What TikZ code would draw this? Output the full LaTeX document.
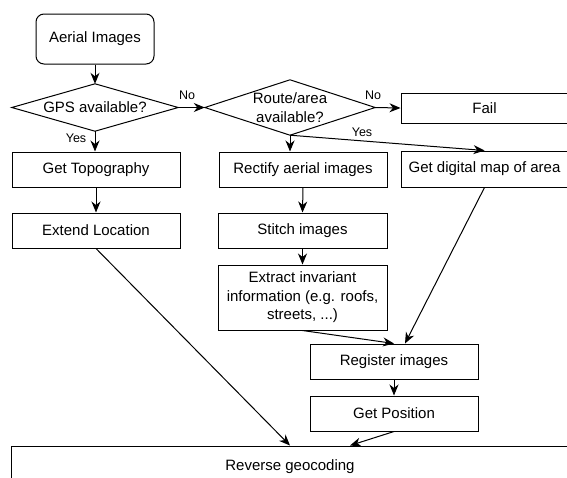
\documentclass[tikz,border=0pt]{standalone}
\usepackage{fontspec}
\setmainfont{Liberation Sans}
\usetikzlibrary{arrows.meta,calc}
\begin{document}
\begin{tikzpicture}[x=1pt,y=-1pt,
  txt/.style={inner sep=0pt,align=center,font=\fontsize{15}{18.5}\selectfont},
  box/.style={txt,draw,line width=1pt,minimum width=168pt,minimum height=35pt},
  lbl/.style={font=\fontsize{12.5}{14}\selectfont,inner sep=0pt},
  arr/.style={line width=1pt,-{Stealth[length=11pt,width=9pt,inset=3.5pt]}},
  dline/.style={line width=1pt,line join=miter}]
\useasboundingbox (0,0) rectangle (567,477);
\clip (0,0) rectangle (567,477);

% nodes
\node[box,rounded corners=8pt,minimum width=118pt,minimum height=50pt] (aerial) at (95,39) {Aerial Images};
\node[txt,minimum width=166pt,minimum height=47pt] (gps) at (95,107.5) {GPS available?};
\draw[dline] (gps.west)--(gps.north)--(gps.east)--(gps.south)--cycle;
\node[txt,minimum width=170pt,minimum height=55pt] (route) at (290,107.5) {Route/area\\available?};
\draw[dline] (route.west)--(route.north)--(route.east)--(route.south)--cycle;
\node[box,minimum width=167pt,minimum height=30pt] (fail) at (484.5,108) {Fail};
\node[box] (topo) at (96,169.5) {Get Topography};
\node[box] (extend) at (96,230.5) {Extend Location};
\node[box] (rectify) at (303,169.5) {Rectify aerial images};
\node[box,minimum width=167pt,minimum height=36pt] (digital) at (484.5,169) {Get digital map of area};
\node[box,minimum width=169pt] (stitch) at (302.5,230.5) {Stitch images};
\node[box,minimum width=169pt,minimum height=65pt] (extract) at (302.5,297.5) {Extract invariant\\information (e.g. roofs,\\streets, ...)};
\node[box] (register) at (394,361.5) {Register images};
\node[box] (getpos) at (394,413.5) {Get Position};
\node[box,minimum width=558pt,minimum height=42pt] (reverse) at (290,467) {Reverse geocoding};

% labels
\node[lbl] (no1) at (187,95) {No};
\node[lbl] (yes1) at (76,138) {Yes};
\node[lbl] (no2) at (373,95) {No};
\node[lbl] (yes2) at (362,132) {Yes};

% connectors
\draw[arr] (aerial.south) -- (gps.north);
\draw[arr] (gps.east) -- (route.west);
\draw[arr] (gps.south) -- (gps.south |- topo.north);
\draw[arr] (topo.south) -- (extend.north);
\draw[arr] (route.east) -- (fail.west);
\draw[arr] (route.south) -- (route.south |- rectify.north);
\draw[arr] (route.south) -- (digital.north);
\draw[arr] (rectify.south) -- (stitch.north);
\draw[arr] (stitch.south) -- (extract.north);
\draw[arr] (extract.south) -- (register.north);
\coordinate (regin) at ([xshift=11pt]register.north);
\draw[arr] (digital.south) -- (regin);
\draw[arr] (register.south) -- (getpos.north);
\coordinate (revin1) at (reverse.north);
\coordinate (revin2) at ([xshift=60pt]reverse.north);
\draw[arr] (extend.south) -- (revin1);
\draw[arr] (getpos.south) -- (revin2);
\end{tikzpicture}
\end{document}
